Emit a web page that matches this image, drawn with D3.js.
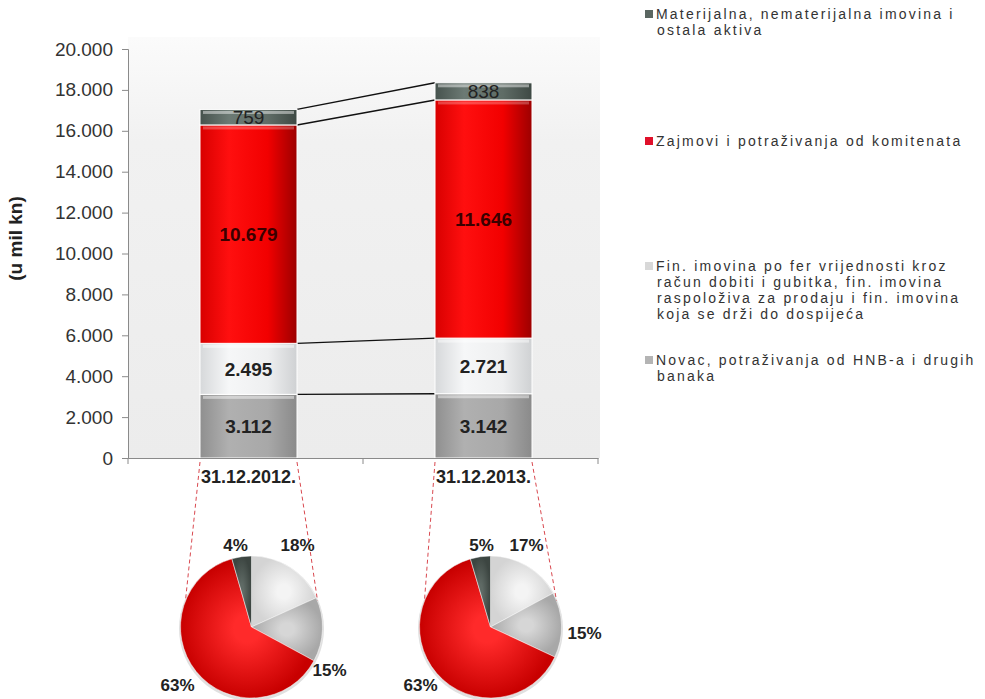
<!DOCTYPE html>
<html>
<head>
<meta charset="utf-8">
<script src="https://cdn.jsdelivr.net/npm/d3@7/dist/d3.min.js"></script>
<style>
  html, body { margin: 0; padding: 0; background: #ffffff; }
  svg { display: block; font-family: "Liberation Sans", Arial, sans-serif; }
</style>
</head>
<body>
<svg id="chart" width="985" height="699"></svg>
<script>
// Struktura imovine (u mil kn)
const categories = ["31.12.2012.", "31.12.2013."];
const seriesNames = [
  "Novac, potraživanja od HNB-a i drugih banaka",
  "Fin. imovina po fer vrijednosti kroz račun dobiti i gubitka, fin. imovina raspoloživa za prodaju i fin. imovina koja se drži do dospijeća",
  "Zajmovi i potraživanja od komitenata",
  "Materijalna, nematerijalna imovina i ostala aktiva"
];
const novac = [3112, 3142];
const finImovina = [2495, 2721];
const zajmovi = [10679, 11646];
const materijalna = [759, 838];
const yTicks = [0, 2000, 4000, 6000, 8000, 10000, 12000, 14000, 16000, 18000, 20000];

// legend text, split into lines, top entry first
const legendLines = [
  ["Materijalna, nematerijalna imovina i", "ostala aktiva"],
  ["Zajmovi i potraživanja od komitenata"],
  ["Fin. imovina po fer vrijednosti kroz", "račun dobiti i gubitka, fin. imovina", "raspoloživa za prodaju i fin. imovina", "koja se drži do dospijeća"],
  ["Novac, potraživanja od HNB-a i drugih", "banaka"]
];

const seriesValues = [novac, finImovina, zajmovi, materijalna];

const svg = d3.select("#chart");
const defs = svg.append("defs");

const locale = d3.formatLocale({ decimal: ",", thousands: ".", grouping: [3], currency: ["", ""] });
const fmt = locale.format(",");

// ---- layout
const plot = { left: 128, right: 598, top: 49, bottom: 458 };
const barWidth = 97;
const barShift = 3;

const x = d3.scaleBand().domain(categories).range([plot.left, plot.right]).padding(0);
const y = d3.scaleLinear().domain([0, 20000]).range([plot.bottom, plot.top]);

// ---- gradients for bar segments (horizontal shading)
const barStyles = [
  { id: "gNovac", stops: ["#8f8f8f", "#b0b0b0", "#a8a8a8", "#8a8a8a"] },
  { id: "gFin", stops: ["#d6d8da", "#f6f7f8", "#eeeff0", "#cfd1d3"] },
  { id: "gZaj", stops: ["#d80000", "#ff0f0f", "#f20000", "#9c0000"] },
  { id: "gMat", stops: ["#46524d", "#6c7a74", "#5f6c66", "#3e4944"] }
];
barStyles.forEach(s => {
  const g = defs.append("linearGradient").attr("id", s.id).attr("x1", 0).attr("x2", 1).attr("y1", 0).attr("y2", 0);
  [0, 0.3, 0.7, 1].forEach((o, i) => g.append("stop").attr("offset", o).attr("stop-color", s.stops[i]));
});

const bg = defs.append("linearGradient").attr("id", "gBg").attr("x1", 0).attr("x2", 0).attr("y1", 0).attr("y2", 1);
bg.append("stop").attr("offset", 0).attr("stop-color", "#fbfbfb");
bg.append("stop").attr("offset", 0.25).attr("stop-color", "#f1f1f1");
bg.append("stop").attr("offset", 1).attr("stop-color", "#ececec");

// plot background
svg.append("rect")
  .attr("x", plot.left).attr("y", plot.top - 12)
  .attr("width", plot.right - plot.left + 2).attr("height", plot.bottom - plot.top + 12)
  .attr("fill", "url(#gBg)");

// ---- stacked data
const stackInput = categories.map((c, i) => ({ cat: c, s0: novac[i], s1: finImovina[i], s2: zajmovi[i], s3: materijalna[i] }));
const stacked = d3.stack().keys(["s0", "s1", "s2", "s3"])(stackInput);

const barLeft = c => x(c) + x.bandwidth() / 2 + barShift - barWidth / 2;

// connector lines between the two columns at each segment top
const connG = svg.append("g");
stacked.forEach(layer => {
  connG.append("line")
    .attr("x1", barLeft(categories[0]) + barWidth)
    .attr("y1", y(layer[0][1]))
    .attr("x2", barLeft(categories[1]))
    .attr("y2", y(layer[1][1]))
    .attr("stroke", "#111")
    .attr("stroke-width", 1.4);
});

// bars
const barsG = svg.append("g");
stacked.forEach((layer, si) => {
  const g = barsG.append("g");
  g.selectAll("rect.seg").data(layer).join("rect")
    .attr("class", "seg")
    .attr("x", d => barLeft(d.data.cat))
    .attr("y", d => y(d[1]))
    .attr("width", barWidth)
    .attr("height", d => y(d[0]) - y(d[1]))
    .attr("fill", `url(#${barStyles[si].id})`)
    .attr("stroke", "#ffffff")
    .attr("stroke-width", 1);
  // bevel highlight along the top of each segment
  g.selectAll("rect.hi").data(layer).join("rect")
    .attr("class", "hi")
    .attr("x", d => barLeft(d.data.cat) + 3)
    .attr("y", d => y(d[1]) + 1.5)
    .attr("width", barWidth - 6)
    .attr("height", 3)
    .attr("fill", "#ffffff")
    .attr("opacity", si === 2 ? 0.25 : 0.45);
});

// value labels
const labelG = svg.append("g");
stacked.forEach((layer, si) => {
  labelG.selectAll(null).data(layer).join("text")
    .attr("x", d => barLeft(d.data.cat) + barWidth / 2)
    .attr("y", d => (y(d[0]) + y(d[1])) / 2)
    .attr("dy", "0.36em")
    .attr("text-anchor", "middle")
    .attr("font-size", 19)
    .attr("font-weight", si === 3 ? "normal" : "bold")
    .attr("fill", si === 2 ? "#3a0000" : "#222")
    .text(d => fmt(d[1] - d[0]));
});

// ---- axes
const axisColor = "#8a8a8a";
const yAxis = svg.append("g").attr("transform", `translate(${plot.left},0)`)
  .call(d3.axisLeft(y).tickValues(yTicks).tickFormat(fmt).tickSize(6).tickPadding(9));
yAxis.select(".domain").attr("stroke", axisColor);
yAxis.selectAll(".tick line").attr("stroke", axisColor);
yAxis.selectAll(".tick text").attr("font-size", 19).attr("fill", "#333").attr("font-family", "Liberation Sans, Arial, sans-serif");

const xAxis = svg.append("g").attr("transform", `translate(0,${plot.bottom})`)
  .call(d3.axisBottom(x).tickSize(0).tickPadding(12));
xAxis.select(".domain").attr("stroke", axisColor);
xAxis.selectAll(".tick text")
  .attr("font-size", 18).attr("font-weight", "bold").attr("fill", "#222")
  .attr("font-family", "Liberation Sans, Arial, sans-serif")
  .attr("dx", barShift);
// category separators
[plot.left, (plot.left + plot.right) / 2, plot.right].forEach(px => {
  svg.append("line").attr("x1", px).attr("x2", px).attr("y1", plot.bottom).attr("y2", plot.bottom + 6)
    .attr("stroke", axisColor);
});

// y axis title
svg.append("text")
  .attr("transform", `translate(22,${(plot.top + plot.bottom) / 2 - 15}) rotate(-90)`)
  .attr("text-anchor", "middle")
  .attr("font-size", 19).attr("font-weight", "bold").attr("fill", "#222")
  .text("(u mil kn)");

// ---- pies
const pieR = 71;
const pieCy = 627;
const pieShift = [3, 7];
const pieColors = [
  { id: "pNovac", inner: "#f4f4f4", outer: "#d4d4d4" },
  { id: "pFin", inner: "#d6d6d6", outer: "#a8a8a8" },
  { id: "pZaj", inner: "#ff2a2a", outer: "#c80000" },
  { id: "pMat", inner: "#5f6a65", outer: "#3c4541" }
];
pieColors.forEach(p => {
  const g = defs.append("radialGradient").attr("id", p.id).attr("cx", "50%").attr("cy", "50%").attr("r", "50%");
  g.append("stop").attr("offset", 0.2).attr("stop-color", p.inner);
  g.append("stop").attr("offset", 1).attr("stop-color", p.outer);
});

// label placement (offset from pie centre) per pie and slice
const pieLabelOffsets = [
  [[46, -82], [78, 43], [-74, 58], [-16, -82]],
  [[36, -82], [94, 6], [-70, 58], [-9, -82]]
];

const pie = d3.pie().sort(null).startAngle(0).endAngle(2 * Math.PI);
const arc = d3.arc().innerRadius(0).outerRadius(pieR);

categories.forEach((cat, ci) => {
  const vals = seriesValues.map(s => s[ci]);
  const total = d3.sum(vals);
  const cx = x(cat) + x.bandwidth() / 2 + barShift + pieShift[ci];
  const bl = barLeft(cat);

  // dashed guides from the column base to the pie
  const dy = 26;
  const dx = Math.sqrt(pieR * pieR - dy * dy);
  [[bl, cx - dx], [bl + barWidth, cx + dx]].forEach(([x0, x1]) => {
    svg.append("line")
      .attr("x1", x0).attr("y1", plot.bottom + 4)
      .attr("x2", x1).attr("y2", pieCy - dy)
      .attr("stroke", "#d9484f").attr("stroke-width", 1)
      .attr("stroke-dasharray", "4,3");
  });

  const g = svg.append("g").attr("transform", `translate(${cx},${pieCy})`);
  // soft shadow rim
  g.append("circle").attr("r", pieR + 1.5).attr("cy", 1.5).attr("fill", "#000").attr("opacity", 0.12);
  const arcs = pie(vals);
  g.selectAll("path").data(arcs).join("path")
    .attr("d", arc)
    .attr("fill", (d, i) => `url(#${pieColors[i].id})`)
    .attr("stroke", "#ffffff")
    .attr("stroke-width", 0.8)
    .attr("stroke-opacity", 0.6);

  g.selectAll("text").data(arcs).join("text")
    .attr("x", (d, i) => pieLabelOffsets[ci][i][0])
    .attr("y", (d, i) => pieLabelOffsets[ci][i][1])
    .attr("dy", "0.36em")
    .attr("text-anchor", "middle")
    .attr("font-size", 17).attr("font-weight", "bold").attr("fill", "#222")
    .text(d => Math.round(d.value / total * 100) + "%");
});

// ---- legend
const legendX = 645;
const legendTop = [14, 141, 266, 360];
const legendSwatch = ["#5a6661", "#e0102a", "#d8d8d8", "#b4b4b4"];
const legG = svg.append("g");
legendLines.forEach((lines, li) => {
  legG.append("rect")
    .attr("x", legendX).attr("y", legendTop[li] - 4)
    .attr("width", 8).attr("height", 8)
    .attr("fill", legendSwatch[li]);
  lines.forEach((ln, k) => {
    legG.append("text")
      .attr("x", k === 0 ? legendX + 11 : legendX + 12)
      .attr("y", legendTop[li] + k * 16)
      .attr("dy", "0.35em")
      .attr("font-size", 14)
      .attr("letter-spacing", "2.2px")
      .attr("fill", "#333")
      .text(ln);
  });
});
</script>
</body>
</html>
